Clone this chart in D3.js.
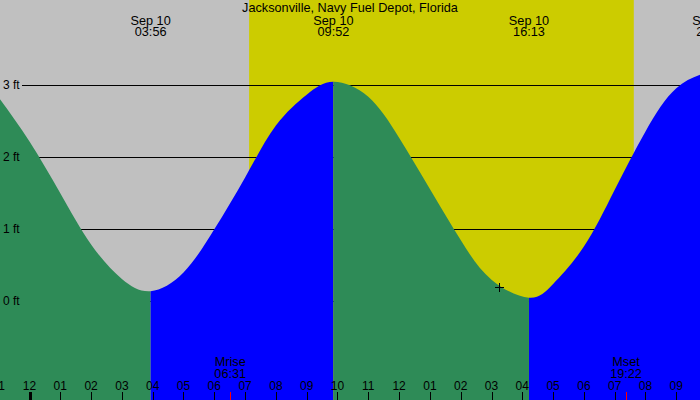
<!DOCTYPE html>
<html lang="en">
<head>
<meta charset="UTF-8">
<title>Jacksonville, Navy Fuel Depot, Florida</title>
<style>
  body { margin: 0; padding: 0; background: #fff; }
  svg { display: block; font-family: "Liberation Sans", Arial, sans-serif; font-size: 12.7px; }
  .grid { stroke: #000; stroke-width: 1; shape-rendering: crispEdges; }
  .tick { stroke: #000; stroke-width: 1; shape-rendering: crispEdges; }
  .hlab, .ylab { font-size: 12px; }
</style>
</head>
<body>
<svg id="chart" width="700" height="400"></svg>
<script src="https://d3js.org/d3.v7.min.js"></script>
<script>
const stationName = "Jacksonville, Navy Fuel Depot, Florida";
const dayLabel = "Sep 10";

// tide curve: hours after midnight Sep 10, height in ft
const tideHours = [-1, 0, 1, 2, 3, 3.933, 5, 6, 7, 8, 9, 9.867, 11, 12, 13, 14, 15, 16.217, 17, 18, 19, 20, 21, 22.167];
const tideFeet  = [2.83, 2.22, 1.50, 0.79, 0.31, 0.14, 0.40, 1.00, 1.72, 2.44, 2.87, 3.05, 2.84, 2.27, 1.56, 0.85, 0.30, 0.05, 0.24, 0.76, 1.55, 2.36, 2.96, 3.20];

// highs and lows
const extremeHours = [3.933, 9.867, 16.217, 22.167];
const extremeKinds = ["low", "high", "low", "high"];
const extremeLabels = ["03:56", "09:52", "16:13", "22:10"];

const sunHours = [7.13, 19.62];          // sunrise, sunset
const moonHours = [6.517, 19.367];       // moonrise, moonset
const moonNames = ["Mrise", "Mset"];
const moonLabels = ["06:31", "19:22"];

const feetTicks = [0, 1, 2, 3];
const hourTicks = [-1, 0, 1, 2, 3, 4, 5, 6, 7, 8, 9, 10, 11, 12, 13, 14, 15, 16, 17, 18, 19, 20, 21, 22];

const nowHour = 15.25, nowFeet = 0.20;

const W = 700, H = 400;
const svg = d3.select('#chart');

const x = d3.scaleLinear().domain([0, 21]).range([29.5, 676.3]);
const y = d3.scaleLinear().domain([0, 3]).range([301.3, 85.3]);

const tide = tideHours.map((t, i) => ({ t: t, h: tideFeet[i] }));

// night / day background
svg.append('rect').attr('width', W).attr('height', H).attr('fill', '#c0c0c0');
svg.append('rect')
  .attr('x', x(sunHours[0])).attr('y', 0)
  .attr('width', x(sunHours[1]) - x(sunHours[0])).attr('height', H)
  .attr('fill', '#cccc00');

// grid lines sit behind the water
svg.selectAll('.grid')
  .data(feetTicks)
  .enter()
  .append('line')
  .attr('class', 'grid')
  .attr('x1', 22).attr('x2', W)
  .attr('y1', d => Math.round(y(d)) + 0.5)
  .attr('y2', d => Math.round(y(d)) + 0.5);

// tide area, split at each high/low: falling = green, rising = blue
const area = d3.area()
  .x(d => x(d.t))
  .y0(H)
  .y1(d => y(d.h))
  .curve(d3.curveNatural);

const edges = [0].concat(extremeHours.map(t => x(t)), [W]);
const defs = svg.append('defs');
for (let i = 0; i < edges.length - 1; i++) {
  const x0 = Math.max(0, edges[i]);
  const x1 = Math.min(W, edges[i + 1]);
  if (x1 <= x0) continue;
  let falling;
  if (i < extremeKinds.length) falling = extremeKinds[i] === 'low';
  else falling = extremeKinds[extremeKinds.length - 1] === 'high';
  defs.append('clipPath').attr('id', 'seg' + i)
    .append('rect').attr('x', x0).attr('y', 0).attr('width', x1 - x0).attr('height', H);
  svg.append('path')
    .datum(tide)
    .attr('d', area)
    .attr('clip-path', 'url(#seg' + i + ')')
    .attr('fill', falling ? '#2e8b57' : '#0000ff');
}

// height labels
svg.selectAll('.ylab')
  .data(feetTicks)
  .enter()
  .append('text')
  .attr('class', 'ylab')
  .attr('x', 3)
  .attr('y', d => y(d) + 4)
  .text(d => d + ' ft');

// title and high/low times
svg.append('text')
  .attr('x', W / 2).attr('y', 12)
  .attr('text-anchor', 'middle')
  .text(stationName);

const ext = svg.selectAll('.ext')
  .data(extremeHours)
  .enter()
  .append('g')
  .attr('class', 'ext');
ext.append('text')
  .attr('x', d => x(d)).attr('y', 24.5)
  .attr('text-anchor', 'middle')
  .text(dayLabel);
ext.append('text')
  .attr('x', d => x(d)).attr('y', 36)
  .attr('text-anchor', 'middle')
  .text((d, i) => extremeLabels[i]);

// hour ticks along the bottom
svg.selectAll('.tick')
  .data(hourTicks)
  .enter()
  .append('line')
  .attr('class', 'tick')
  .attr('x1', d => Math.round(x(d)) + 0.5)
  .attr('x2', d => Math.round(x(d)) + 0.5)
  .attr('y1', 392).attr('y2', H)
  .style('stroke-width', d => d === 0 ? 3 : 1);

svg.selectAll('.hlab')
  .data(hourTicks)
  .enter()
  .append('text')
  .attr('class', 'hlab')
  .attr('x', d => x(d)).attr('y', 389.5)
  .attr('text-anchor', 'middle')
  .text(d => {
    const h12 = ((d % 12) + 12) % 12 || 12;
    return d3.format('02d')(h12);
  });

// moonrise / moonset
svg.selectAll('.moontick')
  .data(moonHours)
  .enter()
  .append('line')
  .attr('class', 'moontick')
  .attr('x1', d => Math.round(x(d)) + 0.5)
  .attr('x2', d => Math.round(x(d)) + 0.5)
  .attr('y1', 392).attr('y2', H)
  .attr('stroke', '#ff0000')
  .attr('shape-rendering', 'crispEdges');

const moon = svg.selectAll('.moon')
  .data(moonHours)
  .enter()
  .append('g')
  .attr('class', 'moon');
moon.append('text')
  .attr('x', d => x(d)).attr('y', 366)
  .attr('text-anchor', 'middle')
  .text((d, i) => moonNames[i]);
moon.append('text')
  .attr('x', d => x(d)).attr('y', 377.5)
  .attr('text-anchor', 'middle')
  .text((d, i) => moonLabels[i]);

// current time marker
const mx = Math.round(x(nowHour)) + 0.5, my = Math.round(y(nowFeet)) + 0.5;
svg.append('line').attr('x1', mx - 4.5).attr('x2', mx + 4.5).attr('y1', my).attr('y2', my)
  .attr('stroke', '#000').attr('shape-rendering', 'crispEdges');
svg.append('line').attr('x1', mx).attr('x2', mx).attr('y1', my - 4.5).attr('y2', my + 4.5)
  .attr('stroke', '#000').attr('shape-rendering', 'crispEdges');
</script>
</body>
</html>
